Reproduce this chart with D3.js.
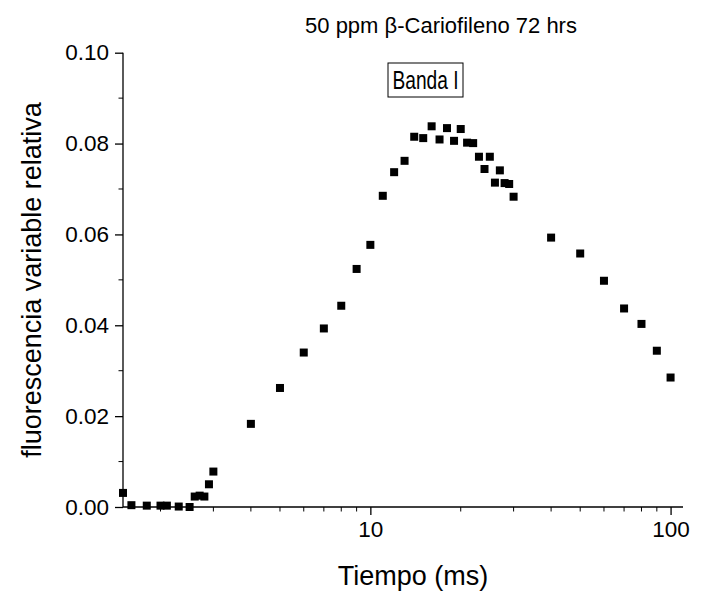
<!DOCTYPE html>
<html lang="es">
  <head>
    <meta charset="utf-8">
    <title>Banda I</title>
    <script src="https://d3js.org/d3.v7.min.js"></script>
    <style>
      body { margin: 0; background: #fff; }
      text { font-family: "Liberation Sans", Arial, sans-serif; fill: #000; }
    </style>
  </head>
  <body>
    <div id="chart"></div>
    <script>
    // tiempo (ms) and fluorescencia variable relativa
    const tiempo = [1.5, 1.6, 1.8, 2.0, 2.1, 2.3, 2.5, 2.6, 2.7, 2.8, 2.9, 3,
                    4, 5, 6, 7, 8, 9, 10, 11, 12, 13, 14, 15, 16, 17, 18, 19, 20,
                    21, 22, 23, 24, 25, 26, 27, 28, 29, 30,
                    40, 50, 60, 70, 80, 90, 100];
    const fluorescencia = [0.0031, 0.0004, 0.0003, 0.0003, 0.0003, 0.0001, 0.0000, 0.0023, 0.0025, 0.0023, 0.0050, 0.0078,
                           0.0183, 0.0262, 0.0340, 0.0393, 0.0443, 0.0524, 0.0577, 0.0685, 0.0737, 0.0762, 0.0815, 0.0812, 0.0838, 0.0809, 0.0834, 0.0806, 0.0832,
                           0.0802, 0.0801, 0.0771, 0.0744, 0.0771, 0.0714, 0.0741, 0.0713, 0.0711, 0.0683,
                           0.0593, 0.0558, 0.0498, 0.0437, 0.0403, 0.0344, 0.0285];

    const xMajor = [10, 100];
    const xMinor = [2, 3, 4, 5, 6, 7, 8, 9, 20, 30, 40, 50, 60, 70, 80, 90];
    const yMajor = [0, 0.02, 0.04, 0.06, 0.08, 0.10];
    const yMinor = [0.01, 0.03, 0.05, 0.07, 0.09];

    const W = 706, H = 591;
    const margin = {top: 52.7, right: 23, bottom: 84, left: 123};
    const width = W - margin.left - margin.right,
          height = H - margin.top - margin.bottom;

    const svg = d3.select("#chart").append("svg")
        .attr("width", W)
        .attr("height", H);

    const g = svg.append("g")
        .attr("transform", `translate(${margin.left},${margin.top})`);

    const x = d3.scaleLog().domain([1.5, 110]).range([0, width]);
    const y = d3.scaleLinear().domain([0, 0.10]).range([height, 0]);

    // x axis
    const xAxis = g.append("g").attr("transform", `translate(0,${height})`);
    xAxis.call(d3.axisBottom(x).tickValues(xMajor).tickFormat(d3.format("d")).tickSize(8).tickPadding(6));
    xAxis.append("g").selectAll("line").data(xMinor).join("line")
        .attr("x1", d => x(d)).attr("x2", d => x(d))
        .attr("y1", 0).attr("y2", 4.5)
        .attr("stroke", "#000");

    // y axis
    const yAxis = g.append("g");
    yAxis.call(d3.axisLeft(y).tickValues(yMajor).tickFormat(d3.format(".2f")).tickSize(8).tickPadding(6));
    yAxis.append("g").selectAll("line").data(yMinor).join("line")
        .attr("y1", d => y(d)).attr("y2", d => y(d))
        .attr("x1", 0).attr("x2", -4.5)
        .attr("stroke", "#000");

    g.selectAll(".domain").attr("stroke", "#000").attr("stroke-width", 1.3);
    g.selectAll(".tick line").attr("stroke", "#000").attr("stroke-width", 1.3);
    g.selectAll(".tick text").style("font-size", "22.5px").attr("fill", "#000");
    xAxis.select(".domain").attr("d", `M0,0H${width}`);
    yAxis.select(".domain").attr("d", `M0,${height}V0`);

    // points
    const pts = tiempo.map((t, i) => ({t: t, f: fluorescencia[i]}));
    const s = 8;
    g.append("g").selectAll("rect").data(pts).join("rect")
        .attr("x", d => x(d.t) - s / 2)
        .attr("y", d => y(d.f) - s / 2)
        .attr("width", s).attr("height", s)
        .attr("fill", "#000");

    // labels
    svg.append("text")
        .attr("x", 413).attr("y", 585)
        .attr("text-anchor", "middle")
        .style("font-size", "27px")
        .text("Tiempo (ms)");

    svg.append("text")
        .attr("transform", "translate(41,280) rotate(-90)")
        .attr("text-anchor", "middle")
        .style("font-size", "27px")
        .text("fluorescencia variable relativa");

    svg.append("text")
        .attr("x", 441).attr("y", 33)
        .attr("text-anchor", "middle")
        .style("font-size", "22px")
        .text("50 ppm β-Cariofileno 72 hrs");

    // Banda I box
    svg.append("rect")
        .attr("x", 388).attr("y", 63)
        .attr("width", 75).attr("height", 34)
        .attr("fill", "none").attr("stroke", "#000").attr("stroke-width", 1);
    svg.append("text")
        .attr("x", 425.5).attr("y", 89)
        .attr("text-anchor", "middle")
        .attr("textLength", 66)
        .attr("lengthAdjust", "spacingAndGlyphs")
        .style("font-size", "26px")
        .text("Banda I");
    </script>
  </body>
</html>
